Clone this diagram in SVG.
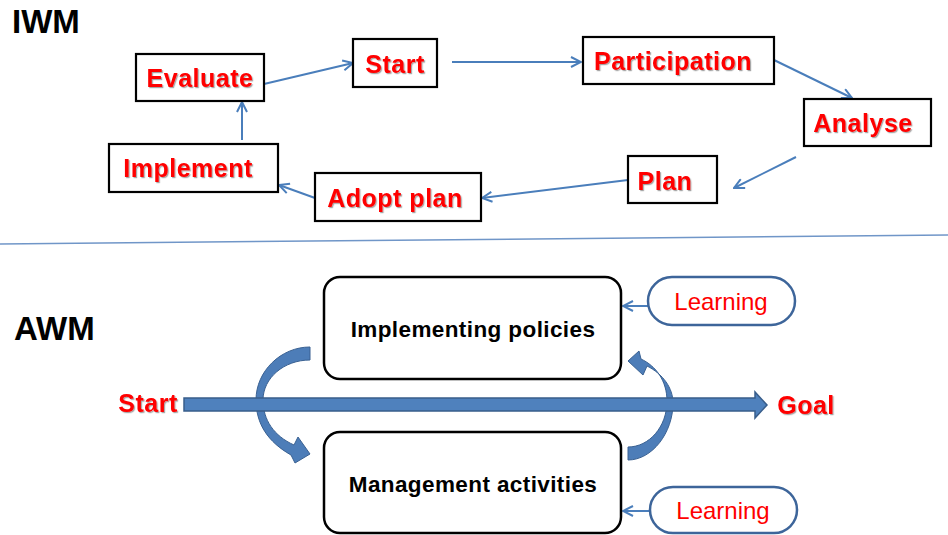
<svg xmlns="http://www.w3.org/2000/svg" width="948" height="535" viewBox="0 0 948 535">
  <style>
    .title { font-family: "Liberation Sans", Arial, sans-serif; font-weight: bold; font-size: 33px; fill: #000; }
    .step { fill: #fff; stroke: #000; stroke-width: 2.2; }
    .red { font-family: "Liberation Sans", Arial, sans-serif; font-weight: bold; font-size: 25px; letter-spacing: 0.5px; fill: #ff0000; text-anchor: middle; filter: url(#shadow); }
    .phase { fill: #fff; stroke: #000; stroke-width: 2.5; }
    .dark { font-family: "Liberation Sans", Arial, sans-serif; font-weight: bold; font-size: 22.5px; letter-spacing: 0.4px; fill: #000; text-anchor: middle; }
    .pill { fill: #fff; stroke: #3d659a; stroke-width: 2.5; }
    .learn { font-family: "Liberation Sans", Arial, sans-serif; font-size: 24px; fill: #ff0000; text-anchor: middle; }
    .link { fill: none; stroke: #4a7ebb; stroke-width: 2; marker-end: url(#open); }
    .bend { fill: #4d7db8; stroke: #3a6192; stroke-width: 1; }
  </style>
  <defs>
    <marker id="open" viewBox="0 0 12 12" refX="11" refY="6" markerWidth="12" markerHeight="12" markerUnits="userSpaceOnUse" orient="auto">
      <path d="M1,1 L11,6 L1,11" fill="none" stroke="#4a7ebb" stroke-width="2"/>
    </marker>
    <filter id="shadow" x="-10%" y="-20%" width="130%" height="150%">
      <feDropShadow dx="1.2" dy="1.2" stdDeviation="0.6" flood-color="#000" flood-opacity="0.35"/>
    </filter>
  </defs>

  <!-- section headings -->
  <text class="title" x="12" y="33">IWM</text>
  <text class="title" x="14" y="340">AWM</text>

  <!-- divider between the two models -->
  <line x1="0" y1="244" x2="948" y2="235" stroke="#7096c8" stroke-width="1.5"/>

  <!-- IWM cycle connectors -->
  <g id="iwm-connectors">
    <line class="link" x1="264" y1="84" x2="353" y2="63"/>
    <line class="link" x1="452" y1="62" x2="581" y2="62"/>
    <line class="link" x1="774" y1="60" x2="852" y2="98"/>
    <line class="link" x1="796" y1="157" x2="734" y2="188"/>
    <line class="link" x1="628" y1="180" x2="482" y2="198"/>
    <line class="link" x1="315" y1="198" x2="279" y2="185"/>
    <line class="link" x1="242" y1="140" x2="242" y2="102"/>
  </g>

  <!-- IWM steps -->
  <g id="evaluate">
    <rect class="step" x="136" y="54" width="128" height="47"/>
    <text class="red" x="200" y="87">Evaluate</text>
  </g>
  <g id="start-iwm">
    <rect class="step" x="353" y="39" width="84" height="48"/>
    <text class="red" x="395" y="73">Start</text>
  </g>
  <g id="participation">
    <rect class="step" x="583" y="37" width="191" height="47"/>
    <text class="red" x="673" y="70">Participation</text>
  </g>
  <g id="analyse">
    <rect class="step" x="804" y="99" width="127" height="47"/>
    <text class="red" x="863" y="132">Analyse</text>
  </g>
  <g id="plan">
    <rect class="step" x="628" y="156" width="89" height="47"/>
    <text class="red" x="665" y="190">Plan</text>
  </g>
  <g id="adopt-plan">
    <rect class="step" x="315" y="173" width="166" height="48"/>
    <text class="red" x="395" y="207">Adopt plan</text>
  </g>
  <g id="implement">
    <rect class="step" x="109" y="144" width="169" height="48"/>
    <text class="red" x="188" y="177">Implement</text>
  </g>

  <!-- AWM connectors -->
  <g id="awm-connectors">
    <!-- policies -> activities -->
    <path class="bend" d="M310,347 C281,347 256,371 256,400 C256,424 268,442 291,455 L295,463 L310,454 L298,437 L294,445 C274,436 263,420 263,400 C263,378 284,360 310,360 Z"/>
    <!-- activities -> policies -->
    <path class="bend" d="M628,460 C652,460 673,433 673,403 C673,388 663,374 647,366 L643,375 L628,361 L639,351 L641,359 C656,366 667,381 667,401 C667,427 649,447 628,447 Z"/>
    <!-- main path from start to goal -->
    <polygon points="184,398 755,398 755,392 767,405 755,418 755,411 184,411" fill="#4f81bd" stroke="#385d8a" stroke-width="1.5"/>
    <!-- learning feedback -->
    <line class="link" x1="648" y1="306" x2="623" y2="306"/>
    <line class="link" x1="650" y1="511" x2="623" y2="511"/>
  </g>

  <!-- AWM nodes -->
  <g id="start-awm">
    <text class="red" x="148" y="412">Start</text>
  </g>
  <g id="goal">
    <text class="red" x="806" y="414">Goal</text>
  </g>
  <g id="implementing-policies">
    <rect class="phase" x="324" y="277" width="297" height="102" rx="16"/>
    <text class="dark" x="473" y="337">Implementing policies</text>
  </g>
  <g id="management-activities">
    <rect class="phase" x="324" y="432" width="297" height="101" rx="16"/>
    <text class="dark" x="473" y="492">Management activities</text>
  </g>
  <g id="learning-top">
    <rect class="pill" x="648" y="277" width="147" height="48" rx="24"/>
    <text class="learn" x="721" y="310">Learning</text>
  </g>
  <g id="learning-bottom">
    <rect class="pill" x="650" y="487" width="147" height="46" rx="23"/>
    <text class="learn" x="723" y="519">Learning</text>
  </g>
</svg>
